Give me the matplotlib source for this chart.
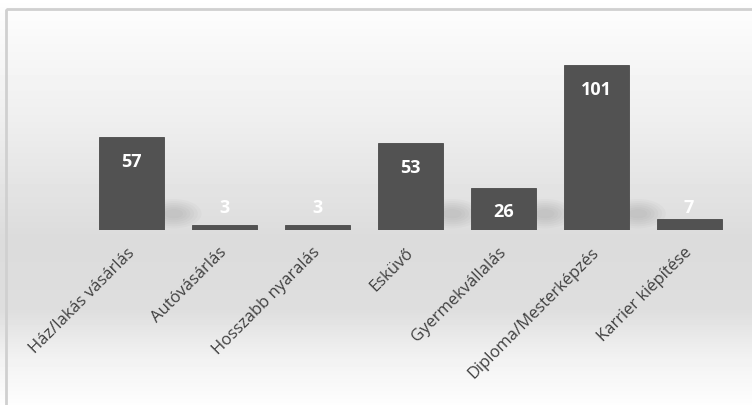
import numpy as np
import matplotlib.pyplot as plt
from matplotlib.patches import Rectangle, Ellipse

categories = ["Ház/lakás vásárlás", "Autóvásárlás", "Hosszabb nyaralás", "Esküvő",
              "Gyermekvállalás", "Diploma/Mesterképzés", "Karrier kiépítése"]
values = [57, 3, 3, 53, 26, 101, 7]

W, H = 752, 406
fig = plt.figure(figsize=(W / 100, H / 100), dpi=100)

# background gradient (white -> grey -> white)
bg = fig.add_axes([0, 0, 1, 1], zorder=-10)
ys = np.array([0, 10, 120, 240, 310, 360, 406])
gs = np.array([1.0, 0.99, 0.935, 0.86, 0.87, 0.95, 0.995])
rows = np.interp(np.arange(H), ys, gs)
img = np.repeat(rows[:, None], 4, axis=1)
bg.imshow(img, cmap="gray", vmin=0, vmax=1, aspect="auto", extent=[0, W, H, 0])
bg.add_patch(Rectangle((6, 10), W, H, fill=False, ec="#d0d0d0", lw=2))
bg.set_xlim(0, W)
bg.set_ylim(H, 0)
bg.axis("off")

# plot area
left, right = 85.5, 735.5
base, top = 231, 35
ymax = (base - top) / 1.634
ax = fig.add_axes([left / W, (H - base) / H, (right - left) / W, (base - top) / H])
ax.set_xlim(-0.5, len(values) - 0.5)
ax.set_ylim(0, ymax)
ax.patch.set_alpha(0)
for s in ax.spines.values():
    s.set_visible(False)
ax.set_yticks([])

x = np.arange(len(values))

# soft shadows to the right of the taller bars
for xi, v in zip(x, values):
    if v < 20:
        continue
    for k in range(6):
        e = Ellipse((xi + 0.45, 10), width=0.6 - k * 0.08, height=18 - k * 2.5,
                    angle=0, color="black", alpha=0.018, lw=0, zorder=1,
                    clip_on=False)
        ax.add_patch(e)

bars = ax.bar(x, values, width=0.7, color="#525252", edgecolor="#4a4a4a",
              linewidth=0.6, zorder=3)

for xi, v in zip(x, values):
    ypos = v - 14.5 if v > 20 else 14
    ax.text(xi, ypos, str(v), ha="center", va="center", color="white",
            fontsize=13, fontweight="bold", family="Open Sans", zorder=4)

ax.set_xticks(x)
ax.set_xticklabels(categories, rotation=45, ha="right", va="center",
                   rotation_mode="anchor", fontsize=12, family="Open Sans",
                   color="#404040")
ax.tick_params(axis="x", length=0, pad=14)

fig.savefig("out.png", dpi=100)
